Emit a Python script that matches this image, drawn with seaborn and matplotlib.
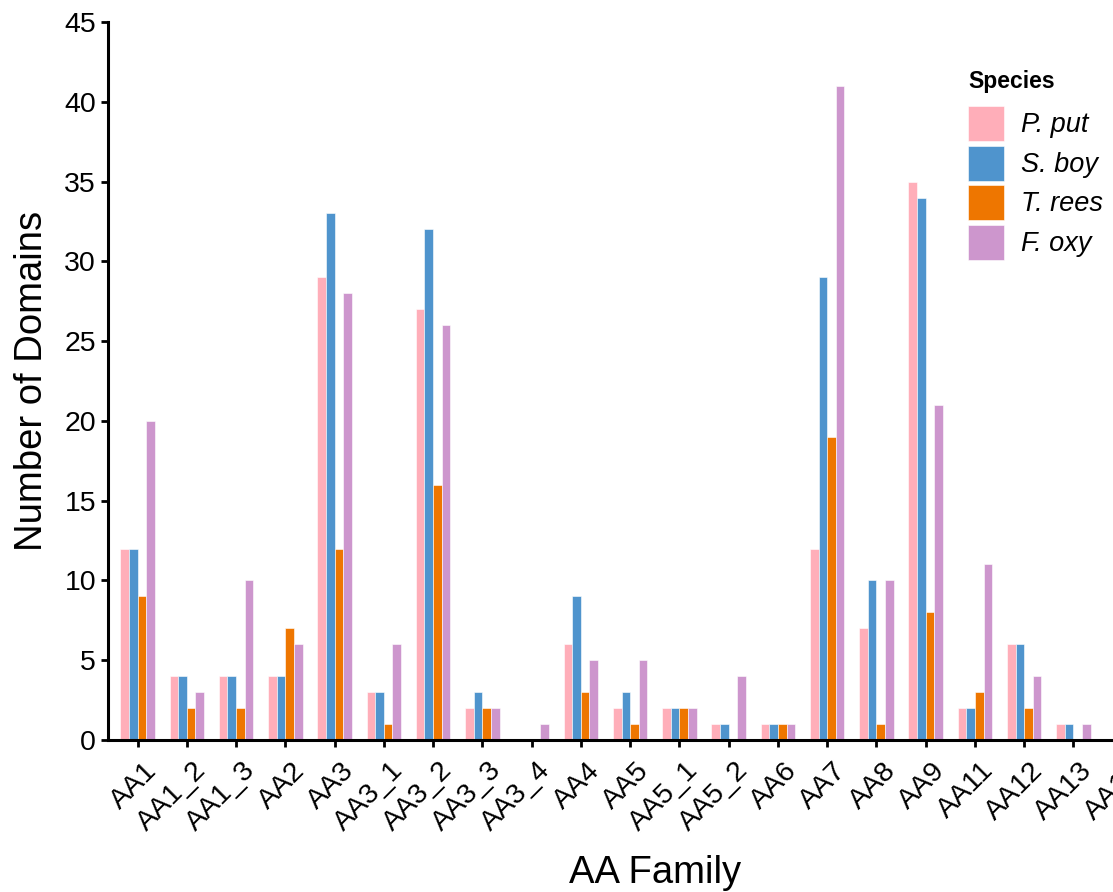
import matplotlib
matplotlib.use("Agg")
import matplotlib.pyplot as plt
from matplotlib.transforms import ScaledTranslation
import seaborn as sns
import pandas as pd

families = ["AA1", "AA1_2", "AA1_3", "AA2", "AA3", "AA3_1", "AA3_2", "AA3_3", "AA3_4",
            "AA4", "AA5", "AA5_1", "AA5_2", "AA6", "AA7", "AA8", "AA9", "AA11", "AA12",
            "AA13", "AA14", "AA16"]
species = ["P. put", "S. boy", "T. rees", "F. oxy"]
p_put = [12, 4, 4, 4, 29, 3, 27, 2, 0, 6, 2, 2, 1, 1, 12, 7, 35, 2, 6, 1, 0, 0]
s_boy = [12, 4, 4, 4, 33, 3, 32, 3, 0, 9, 3, 2, 1, 1, 29, 10, 34, 2, 6, 1, 0, 0]
t_rees = [9, 2, 2, 7, 12, 1, 16, 2, 0, 3, 1, 2, 0, 1, 19, 1, 8, 3, 2, 0, 0, 0]
f_oxy = [20, 3, 10, 6, 28, 6, 26, 2, 1, 5, 5, 2, 4, 1, 41, 10, 21, 11, 4, 1, 0, 0]
colors = ["#FFAEB9", "#4F94CD", "#EE7600", "#CD96CD"]
y_ticks = [0, 5, 10, 15, 20, 25, 30, 35, 40, 45]

rows = []
for sp, vals in zip(species, [p_put, s_boy, t_rees, f_oxy]):
    for fam, v in zip(families, vals):
        rows.append({"family": fam, "species": sp, "count": v})
df = pd.DataFrame(rows)

sns.set_style("ticks")
plt.rcParams["font.family"] = ["Liberation Sans", "DejaVu Sans"]
plt.rcParams["text.color"] = "black"
plt.rcParams["axes.labelcolor"] = "black"
plt.rcParams["xtick.color"] = "black"
plt.rcParams["ytick.color"] = "black"

W, H = 1113, 892
fig = plt.figure(figsize=(W / 100, H / 100), dpi=100)
ax_left, ax_right, ax_bottom, ax_top = 108, 1201.5, 740, 22
ax = fig.add_axes([ax_left / W, 1 - ax_bottom / H, (ax_right - ax_left) / W, (ax_bottom - ax_top) / H])

sns.barplot(data=df, x="family", y="count", hue="species", order=families,
            hue_order=species, palette=colors, width=0.7, saturation=1,
            edgecolor="white", linewidth=0.4, ax=ax, errorbar=None)

ax.set_xlim(-0.6, len(families) - 0.4)
ax.set_ylim(0, 45)
ax.set_yticks(y_ticks)
ax.set_yticklabels([str(t) for t in y_ticks])
sns.despine(ax=ax)
for s in ["left", "bottom"]:
    ax.spines[s].set_linewidth(2.2)
    ax.spines[s].set_color("black")
ax.tick_params(axis="both", length=5, width=2, color="black", labelcolor="black")
ax.tick_params(axis="y", labelsize=20.5, pad=3.6)
ax.tick_params(axis="x", labelsize=20.5, pad=7.5)

offset = ScaledTranslation(0.06, 0, fig.dpi_scale_trans)
for lab in ax.get_xticklabels():
    lab.set_rotation(45)
    lab.set_ha("right")
    lab.set_va("top")
    lab.set_rotation_mode("anchor")
    lab.set_transform(lab.get_transform() + offset)

ax.set_xlabel("AA Family", fontsize=27.5, color="black")
ax.set_ylabel("Number of Domains", fontsize=27.5, color="black")
ax.xaxis.label.set_va("baseline")
ax.xaxis.set_label_coords(654.7 / W, 1 - 883 / H, transform=fig.transFigure)
ax.yaxis.label.set_va("baseline")
ax.yaxis.set_label_coords(42 / W, 1 - 381 / H, transform=fig.transFigure)

handles, labels = ax.get_legend_handles_labels()
ax.get_legend().remove()
fs = 19.5
fspx = fs * 100 / 72
key_w, key_h, row_gap = 36, 35, 4.5
hh = (key_h / fspx - 0.245) / 0.65
fig.text(968 / W, 1 - 88 / H, "Species", fontsize=16.5, fontweight="bold",
         va="baseline", ha="left", color="black")
fig.legend(handles, labels, loc="upper left", bbox_to_anchor=(968 / W, 1 - 106 / H),
           frameon=False, borderpad=0, borderaxespad=0,
           prop={"family": "Liberation Sans", "style": "italic", "size": fs},
           handlelength=key_w / fspx, handleheight=hh,
           labelspacing=row_gap / fspx, handletextpad=17 / fspx)

fig.savefig("out.png", dpi=100)
